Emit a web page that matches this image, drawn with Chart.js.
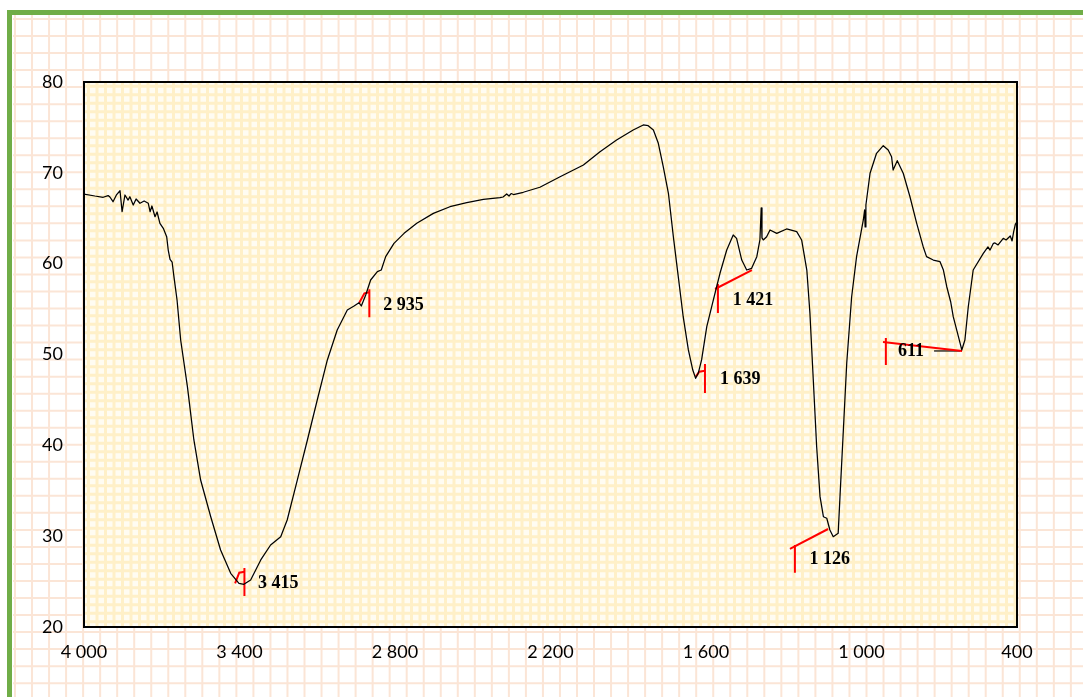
<!DOCTYPE html>
<html><head><meta charset="utf-8">
<script src="https://cdn.jsdelivr.net/npm/chart.js@4.4.1/dist/chart.umd.min.js"></script>
<style>html,body{margin:0;padding:0;background:#fff;overflow:hidden}canvas{display:block}</style>
</head><body>
<canvas id="c" width="1083" height="697"></canvas>
<script>
// Wavenumber (cm-1) and transmittance (%)
const wavenumbers = [
 4000,3958,3926,3907,3900,3888,3874,3861,3853,3842,
 3830,3823,3810,3799,3784,3768,3752,3745,3738,3726,
 3718,3707,3694,3681,3675,3668,3660,3653,3641,3627,
 3601,3576,3550,3511,3473,3434,3402,3383,3357,3318,
 3280,3241,3216,3177,3138,3100,3061,3023,2984,2958,
 2939,2930,2913,2894,2868,2853,2836,2804,2765,2716,
 2652,2588,2523,2459,2395,2383,2369,2360,2352,2343,
 2305,2241,2163,2073,2009,1945,1881,1842,1823,1803,
 1784,1765,1745,1726,1707,1688,1668,1651,1640,1630,
 1617,1597,1578,1559,1546,1520,1495,1482,1462,1443,
 1424,1404,1392,1387,1384,1379,1366,1353,1327,1289,
 1250,1231,1211,1199,1186,1173,1160,1147,1134,1122,
 1109,1090,1083,1070,1057,1038,1019,993,988,986,
 983,967,942,916,897,884,878,862,839,813,
 787,762,749,723,697,684,671,656,646,626,
 613,601,588,569,530,512,504,491,485,473,
 453,442,426,419,413,406,401
];
const transmittance = [
 67.67,67.45,67.31,67.5,67.34,66.82,67.61,68.03,65.72,67.56,
 67.0,67.37,66.46,67.12,66.65,66.9,66.65,65.72,66.35,65.17,
 65.69,64.44,63.89,62.97,61.5,60.48,60.18,58.57,56.0,51.6,
 46.46,40.59,36.18,32.14,28.48,25.91,24.81,24.70,25.17,27.38,
 29.03,29.94,31.78,36.18,40.59,44.99,49.40,52.70,54.90,55.34,
 55.70,55.34,56.55,58.20,59.12,59.30,60.77,62.24,63.34,64.44,
 65.54,66.27,66.71,67.09,67.26,67.34,67.67,67.45,67.72,67.61,
 67.86,68.41,69.57,70.86,72.33,73.61,74.72,75.27,75.19,74.72,
 73.25,70.68,67.75,62.97,58.57,54.16,50.50,48.29,47.38,47.93,
 49.40,53.06,55.26,57.46,58.94,61.50,63.16,62.79,60.40,59.30,
 59.49,60.77,62.61,66.13,62.83,62.61,62.97,63.71,63.34,63.82,
 63.52,62.61,59.30,54.54,47.19,39.85,34.35,32.14,31.97,30.68,
 29.94,30.31,34.35,41.69,49.03,56.36,60.77,64.81,65.91,64.04,
 66.46,69.95,72.15,72.99,72.51,71.78,70.31,71.34,69.95,67.37,
 64.44,61.87,60.77,60.40,60.22,59.30,57.46,55.81,54.16,51.96,
 50.50,51.60,55.26,59.30,61.14,61.84,61.50,62.24,62.28,62.06,
 62.79,62.61,63.05,62.50,63.49,64.37,64.59
];
const xTicks = [4000,3400,2800,2200,1600,1000,400];
const yTicks = [20,30,40,50,60,70,80];

// Peak annotations
const peakLabels = ['3 415','2 935','1 421','1 639','1 126','611'];
const peakLabelWn = [3329,2845,1497,1546,1201,859];
const peakLabelT  = [24.82,55.39,55.95,47.28,27.43,50.31];
const markerRed = [
 [[3417,24.81],[3401,25.98],[3381,26.09]], [[3381,26.50],[3381,23.41]],
 [[2938,55.70],[2918,56.74],[2899,56.85]], [[2899,57.18],[2899,54.10]],
 [[1565,57.21],[1423,59.30]], [[1554,57.76],[1554,54.57]],
 [[1639,47.56],[1626,48.11],[1604,48.22]], [[1604,48.96],[1604,45.76]],
 [[1129,30.79],[1276,28.59]], [[1257,29.03],[1257,25.98]],
 [[917,51.38],[612,50.39]], [[906,51.82],[906,48.84]]
];
const markerBlack = [ [[720,50.39],[620,50.39]] ];

const fmt = v => String(v).replace(/\B(?=(\d{3})+(?!\d))/g, ' ');

const datasets = [{
  data: wavenumbers.map((x, i) => ({x, y: transmittance[i]})),
  borderColor: '#000', borderWidth: 1.25, pointRadius: 0, tension: 0,
  borderJoinStyle: 'round', fill: false
}];
markerRed.forEach(seg => datasets.push({
  data: seg.map(p => ({x: p[0], y: p[1]})),
  borderColor: '#ff0000', borderWidth: 2, pointRadius: 0, tension: 0, fill: false
}));
markerBlack.forEach(seg => datasets.push({
  data: seg.map(p => ({x: p[0], y: p[1]})),
  borderColor: '#000', borderWidth: 1.2, pointRadius: 0, tension: 0, fill: false
}));

const bgPlugin = {
  id: 'bg',
  beforeDraw(chart) {
    const ctx = chart.ctx, W = chart.width, H = chart.height, a = chart.chartArea;
    ctx.save();
    ctx.fillStyle = '#ffffff'; ctx.fillRect(0, 0, W, H);
    ctx.strokeStyle = '#fbe5d6'; ctx.lineWidth = 2;
    ctx.beginPath();
    for (let x = 15; x < W; x += 17.03) { ctx.moveTo(x, 13); ctx.lineTo(x, H); }
    for (let y = 19; y < H; y += 17.03) { ctx.moveTo(13, y); ctx.lineTo(W, y); }
    ctx.stroke();
    ctx.fillStyle = '#70ad47';
    ctx.fillRect(7, 10, W - 7, 5);
    ctx.fillRect(7, 10, 5, H - 10);
    // plot area
    ctx.fillStyle = '#fffcf2';
    ctx.fillRect(a.left, a.top, a.right - a.left, a.bottom - a.top);
    ctx.strokeStyle = '#fff0c8'; ctx.lineWidth = 3;
    ctx.beginPath();
    for (let x = a.left + 4.5; x < a.right; x += 8.5) { ctx.moveTo(x, a.top); ctx.lineTo(x, a.bottom); }
    for (let y = a.top + 4.2; y < a.bottom; y += 8.5) { ctx.moveTo(a.left, y); ctx.lineTo(a.right, y); }
    ctx.stroke();
    ctx.restore();
  },
  afterDraw(chart) {
    const ctx = chart.ctx, a = chart.chartArea, xs = chart.scales.x, ys = chart.scales.y;
    ctx.save();
    ctx.strokeStyle = '#000'; ctx.lineWidth = 2;
    ctx.strokeRect(a.left, a.top, a.right - a.left, a.bottom - a.top);
    ctx.fillStyle = '#000';
    ctx.font = 'bold 18px "Liberation Serif"';
    ctx.textAlign = 'left'; ctx.textBaseline = 'middle';
    peakLabels.forEach((t, i) => {
      ctx.fillText(t, xs.getPixelForValue(peakLabelWn[i]), ys.getPixelForValue(peakLabelT[i]));
    });
    ctx.restore();
  }
};

new Chart(document.getElementById('c'), {
  type: 'line',
  data: { datasets },
  plugins: [bgPlugin],
  options: {
    responsive: false, animation: false, devicePixelRatio: 1,
    layout: { padding: { left: 0, top: 82, right: 66, bottom: 0 } },
    plugins: { legend: { display: false }, tooltip: { enabled: false } },
    scales: {
      x: {
        type: 'linear', reverse: true, min: 400, max: 4000,
        afterBuildTicks: s => { s.ticks = xTicks.map(v => ({ value: v })); },
        afterFit: s => { s.height = 70; },
        ticks: { callback: v => fmt(v), font: { family: 'Lato', size: 18 }, color: '#000', padding: 14, maxRotation: 0, autoSkip: false },
        grid: { display: false, drawTicks: false }, border: { display: false }
      },
      y: {
        type: 'linear', min: 20, max: 80,
        afterBuildTicks: s => { s.ticks = yTicks.map(v => ({ value: v })); },
        afterFit: s => { s.width = 84; },
        ticks: { callback: v => String(v), font: { family: 'Lato', size: 18 }, color: '#000', padding: 21, autoSkip: false },
        grid: { display: false, drawTicks: false }, border: { display: false }
      }
    }
  }
});
</script>
</body></html>
